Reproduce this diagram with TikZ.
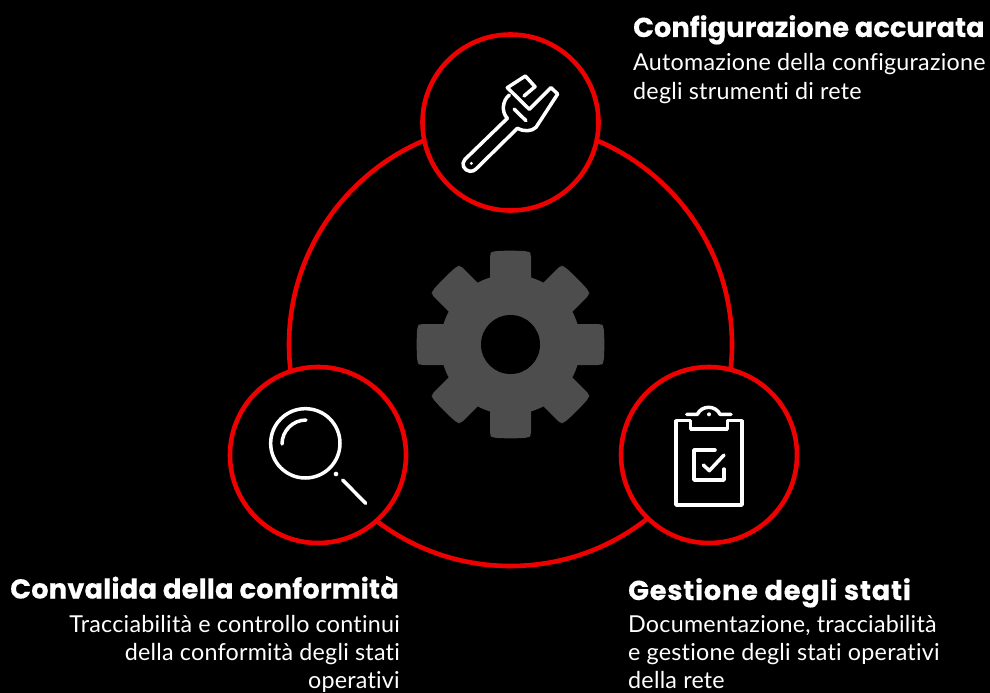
\documentclass[tikz,border=0pt]{standalone}
\usepackage{fontspec}
\setmainfont{Lato}[Ligatures={NoCommon},LetterSpace=1.0]
\newfontfamily\headfont{Poppins}[BoldFont=Poppins Bold,BoldFeatures={FakeBold=0.3}]
\definecolor{rhred}{RGB}{238,0,0}
\definecolor{geargray}{RGB}{77,77,77}
\tikzset{
  badge/.style={circle,draw=rhred,line width=4.6pt,fill=black,minimum size=176pt,inner sep=0pt},
  icon/.style={draw=white,line width=3.5pt,line cap=round,line join=round},
  dotmark/.style={fill=white,draw=none},
  head/.style={text=white,font=\headfont\bfseries\fontsize{27.3}{30}\selectfont,inner sep=0pt},
  body/.style={text=white,font=\fontsize{23.3}{29}\selectfont,inner sep=0pt},
  bodylow/.style={text=white,font=\fontsize{23.3}{28}\selectfont,inner sep=0pt},
  zoomed/.style={x=0.33333pt,y=-0.33333pt}
}
\begin{document}
\begin{tikzpicture}[x=1pt,y=-1pt]
\useasboundingbox (0,0) rectangle (990,693);
\fill[black] (0,0) rectangle (990,693);
\coordinate (hub) at (510.5,344.5);
\node[circle,draw=rhred,line width=4.6pt,minimum size=443pt,inner sep=0pt] (bigring) at (hub) {};
% gear
\begin{scope}[shift={(hub)}]
  \fill[geargray] (0,0) circle[radius=70pt];
  \foreach \a in {0,45,...,315}{
    \fill[geargray,rotate=\a,rounded corners=3pt] (-20.5,0) -- (-20.5,-91) -- (-18,-93) .. controls (-8,-94) and (8,-94) .. (18,-93) -- (20.5,-91) -- (20.5,0) -- cycle;
  }
  \fill[black] (0,0) circle[radius=29.5pt];
\end{scope}
\node[badge] (top) at (510.5,122.5) {};
\node[badge] (left) at (318,455) {};
\node[badge] (right) at (709,455) {};
% wrench
\begin{scope}[shift={(420,20)},zoomed]
  \draw[icon] (262,295) -- (135,418) .. controls (122,432) and (132,452) .. (150,454) .. controls (158,454) and (163,452) .. (168,447) -- (292,325) .. controls (310,335) and (335,335) .. (348,322) -- (413,222) -- (393,203) -- (328,268) -- (262,203) -- (316,168) -- (345,200) -- (312,228);
  \draw[icon] (268,225) .. controls (248,240) and (243,275) .. (262,295);
  \draw[icon] (282,267) -- (318,302);
  \fill[dotmark] (154,430) circle[radius=5];
\end{scope}
% clipboard
\begin{scope}[shift={(620,370)},zoomed]
  \draw[icon] (212,152) -- (168,152) -- (168,405) -- (366,405) -- (366,152) -- (322,152) -- (322,177) -- (212,177) -- cycle;
  \draw[icon] (200,133) -- (232,133) .. controls (245,105) and (287,105) .. (300,133) -- (333,133);
  \fill[dotmark] (267,133) circle[radius=6];
  \draw[icon] (285,240) -- (222,240) -- (222,330) -- (312,330) -- (312,297);
  \draw[icon] (250,285) -- (268,302) -- (312,255);
\end{scope}
% magnifier
\begin{scope}[shift={(230,370)},zoomed]
  \draw[icon] (226,220) circle[radius=104];
  \draw[icon] (156,222) .. controls (156,183) and (188,150) .. (228,150);
  \fill[dotmark] (318,312) circle[radius=7];
  \draw[icon] (338,330) -- (407,400);
\end{scope}
% labels
\node[head,anchor=base west] (h1) at (633,37) {Configurazione accurata};
\node[body,anchor=north west,align=left] (b1) at (633,53.5) {Automazione della configurazione\\degli strumenti di rete};
\node[head,anchor=base east] (h2) at (399,598.5) {\addfontfeature{LetterSpace=0.6}Convalida della conformità};
\node[bodylow,anchor=north east,align=right] (b2) at (400,615.5) {Tracciabilità e controllo continui\\della conformità degli stati\\operativi};
\node[head,anchor=base west] (h3) at (628,600) {\addfontfeature{LetterSpace=2.7}Gestione degli stati};
\node[bodylow,anchor=north west,align=left] (b3) at (628,615.5) {Documentazione, tracciabilità\\e gestione degli stati operativi\\della rete};
\end{tikzpicture}
\end{document}
